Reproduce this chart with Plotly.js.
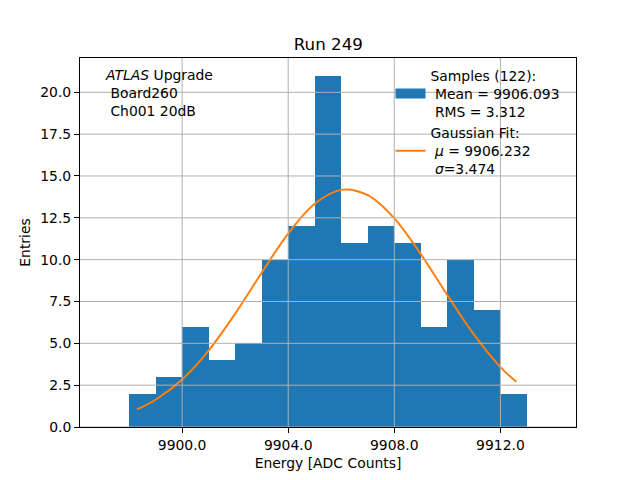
<!DOCTYPE html>
<html>
<head>
<meta charset="utf-8">
<script src="https://cdn.plot.ly/plotly-3.0.1.min.js"></script>
<style>html,body{margin:0;padding:0;background:#fff;}#chart{width:640px;height:480px;}</style>
</head>
<body>
<div id="chart"></div>
<script>
// Histogram bins (left edges) and entries
const binEdges = [9898, 9899, 9900, 9901, 9902, 9903, 9904, 9905, 9906, 9907, 9908, 9909, 9910, 9911, 9912];
const entries  = [2, 3, 6, 4, 5, 10, 12, 21, 11, 12, 11, 6, 10, 7, 2];
// Gaussian fit curve
const fitX = [9898.3, 9899, 9900, 9901, 9902, 9903, 9904, 9905, 9906, 9907, 9908, 9909, 9910, 9911, 9912, 9912.6];
const fitY = [1.05, 1.63, 2.84, 4.57, 6.77, 9.22, 11.56, 13.34, 14.17, 13.85, 12.47, 10.33, 7.88, 5.53, 3.58, 2.7];
const xTicks = [9900, 9904, 9908, 9912];
const yTicks = [0, 2.5, 5, 7.5, 10, 12.5, 15, 17.5, 20];
const samplesLabel = 'Samples (122):<br>\u00a0Mean = 9906.093<br>\u00a0RMS = 3.312';
const fitLabel = 'Gaussian Fit:<br>\u00a0<i>μ</i> = 9906.232<br>\u00a0<i>σ</i>=3.474';

const font = "DejaVu Sans, sans-serif";
const gridShapes = [];
xTicks.forEach(v => gridShapes.push({type:'line', layer:'above', xref:'x', yref:'paper', x0:v, x1:v, y0:0, y1:1, line:{color:'#b0b0b0', width:1}}));
yTicks.forEach(v => gridShapes.push({type:'line', layer:'above', xref:'paper', yref:'y', x0:0, x1:1, y0:v, y1:v, line:{color:'#b0b0b0', width:1}}));

const traces = [
  {type:'bar', x:binEdges, y:entries, offset:0, width:1,
   marker:{color:'#1f77b4', line:{width:0}}, showlegend:false, name:'Samples'},
  // legend proxy for the histogram (wide rectangle patch)
  {type:'scatter', mode:'lines', x:[null], y:[null], line:{color:'#1f77b4', width:10},
   name:samplesLabel, showlegend:true},
  {type:'scatter', mode:'lines', x:fitX, y:fitY, line:{color:'#ff7f0e', width:2, shape:'spline'},
   name:fitLabel}
];

const layout = {
  width:640, height:480,
  paper_bgcolor:'#fff', plot_bgcolor:'#fff',
  margin:{l:80, r:64, t:58, b:53},
  font:{family:font, size:13.9, color:'#000'},
  title:{text:'Run 249', font:{size:16.7, family:font}, x:0.513, xanchor:'center', y:0.907, yanchor:'middle'},
  bargap:0,
  showlegend:true,
  legend:{x:0.626, xanchor:'left', y:0.995, yanchor:'top', bgcolor:'rgba(0,0,0,0)', font:{size:13.9}, tracegroupgap:0, itemwidth:30},
  xaxis:{range:[9896.15, 9914.85], tickvals:xTicks, ticktext:xTicks.map(v=>v.toFixed(1)),
    showgrid:false, zeroline:false, showline:true, mirror:true, linecolor:'#000', linewidth:1,
    ticks:'outside', ticklen:5, tickcolor:'#000',
    title:{text:'Energy [ADC Counts]', font:{size:13.9}, standoff:6}},
  yaxis:{range:[0, 22.05], tickvals:yTicks, ticktext:yTicks.map(v=>v.toFixed(1)),
    showgrid:false, zeroline:false, showline:true, mirror:true, linecolor:'#000', linewidth:1,
    ticks:'outside', ticklen:5, tickcolor:'#000',
    title:{text:'Entries', font:{size:13.9}, standoff:6}},
  shapes:gridShapes,
  annotations:[{xref:'paper', yref:'paper', x:0.046, y:0.98, xanchor:'left', yanchor:'top', align:'left', showarrow:false,
    text:'<i>ATLAS</i> Upgrade<br>\u00a0Board260<br>\u00a0Ch001 20dB', font:{size:13.9}}]
};
Plotly.newPlot('chart', traces, layout, {displayModeBar:false, staticPlot:true});
</script>
</body>
</html>
